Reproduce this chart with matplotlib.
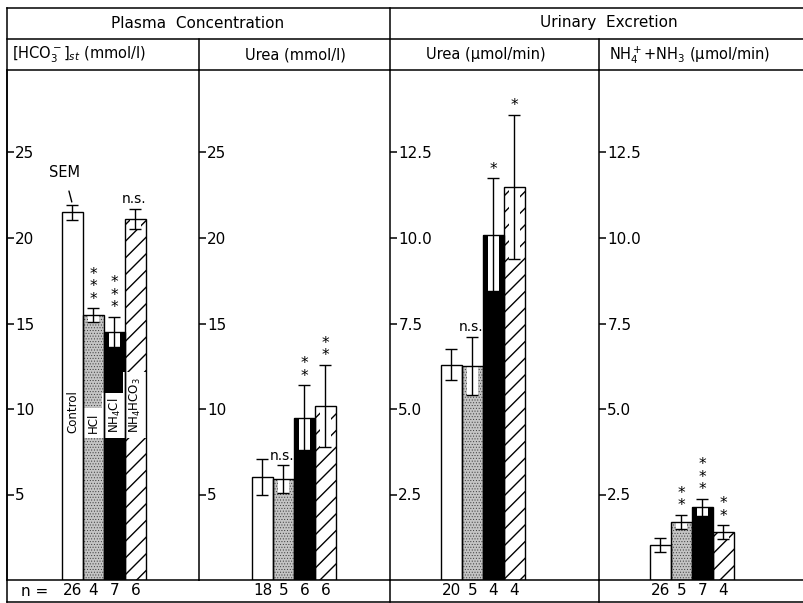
import matplotlib
matplotlib.use('Agg')
import matplotlib.pyplot as plt
from matplotlib.lines import Line2D

plt.rcParams['font.family'] = 'DejaVu Sans'
plt.rcParams['hatch.linewidth'] = 1.0

groups = ['Control', 'HCl', 'NH$_4$Cl', 'NH$_4$HCO$_3$']

# plasma HCO3 st (mmol/l)
hco3_mean = [21.5, 15.5, 14.5, 21.1]
hco3_sem = [0.45, 0.4, 0.9, 0.6]
hco3_n = [26, 4, 7, 6]
hco3_sig = ['', '***', '***', 'n.s.']

# plasma urea (mmol/l)
purea_mean = [6.0, 5.9, 9.5, 10.2]
purea_sem = [1.05, 0.8, 1.9, 2.4]
purea_n = [18, 5, 6, 6]
purea_sig = ['', 'n.s.', '**', '**']

# urinary urea (umol/min)
uurea_mean = [6.3, 6.25, 10.1, 11.5]
uurea_sem = [0.45, 0.85, 1.65, 2.1]
uurea_n = [20, 5, 4, 4]
uurea_sig = ['', 'n.s.', '*', '*']

# urinary NH4+ + NH3 (umol/min)
nh4_mean = [1.02, 1.70, 2.13, 1.40]
nh4_sem = [0.2, 0.21, 0.25, 0.2]
nh4_n = [26, 5, 7, 4]
nh4_sig = ['', '**', '***', '**']

ticks_a = [5, 10, 15, 20, 25]
ticks_b = [2.5, 5.0, 7.5, 10.0, 12.5]
ticklab_b = ['2.5', '5.0', '7.5', '10.0', '12.5']

W, H = 804, 603
def fx(x):
    return x / W
def fy(y):
    return 1 - y / H

fig = plt.figure(figsize=(W / 100, H / 100), dpi=100)

edges = [7, 199, 390, 599, 828]
bar_start = [62, 252, 441, 650]
bar_px = 21.0
top, bot = 70, 580
lw = 1.1

panels = [
    (hco3_mean, hco3_sem, hco3_n, hco3_sig, 17.1, ticks_a, [str(t) for t in ticks_a]),
    (purea_mean, purea_sem, purea_n, purea_sig, 17.1, ticks_a, [str(t) for t in ticks_a]),
    (uurea_mean, uurea_sem, uurea_n, uurea_sig, 34.2, ticks_b, ticklab_b),
    (nh4_mean, nh4_sem, nh4_n, nh4_sig, 34.2, ticks_b, ticklab_b),
]

faces = ['white', '#c4c4c4', 'black', 'white']
hatches = [None, '......', None, '//']
hcols = ['black', '#3a3a3a', 'black', 'black']

for k, (mean, sem, nn, sig, pxu, yt, ytl) in enumerate(panels):
    l, r = edges[k], edges[k + 1]
    ax = fig.add_axes([fx(l), fy(bot), (r - l) / W, (bot - top) / H])
    x0 = -0.5 - (bar_start[k] - l) / bar_px
    ax.set_xlim(x0, x0 + (r - l) / bar_px)
    ax.set_ylim(0, (bot - top) / pxu)
    xs = list(range(len(mean)))

    for i in xs:
        b = ax.bar(i, mean[i], width=1.0, color=faces[i], hatch=hatches[i],
                   edgecolor=hcols[i], linewidth=0, zorder=1)
        if hatches[i] == '......':
            for p in b:
                if hasattr(p, 'set_hatch_linewidth'):
                    p.set_hatch_linewidth(0.4)
        if i > 0:
            # white window around the lower half of the error bar
            ax.bar(i, sem[i], bottom=mean[i] - sem[i], width=0.55,
                   color='white', linewidth=0, zorder=2)
    ax.bar(xs, mean, width=1.0, fill=False, edgecolor='black', linewidth=1.0, zorder=3)
    ax.errorbar(xs, mean, yerr=sem, fmt='none', ecolor='black', elinewidth=1.0,
                capsize=4, capthick=1.0, zorder=4)

    for i, s in enumerate(sig):
        if not s:
            continue
        if s.startswith('*'):
            txt = '\n'.join(s)
            ax.annotate(txt, xy=(i, mean[i] + sem[i]), xytext=(0, 1),
                        textcoords='offset points', ha='center', va='bottom',
                        fontsize=11, linespacing=0.8, zorder=5)
        else:
            ax.annotate(s, xy=(i, mean[i] + sem[i]), xytext=(-1, 2),
                        textcoords='offset points', ha='center', va='bottom',
                        fontsize=10, zorder=5)

    ax.set_yticks(yt)
    ax.set_yticklabels(ytl, fontsize=11)
    ax.tick_params(axis='y', direction='in', length=5, width=lw, pad=-6)
    for lab in ax.get_yticklabels():
        lab.set_horizontalalignment('left')
    ax.set_xticks(xs)
    ax.set_xticklabels([str(v) for v in nn], fontsize=11)
    ax.tick_params(axis='x', length=0, pad=2)
    for side in ['left', 'top', 'bottom', 'right']:
        ax.spines[side].set_linewidth(lw)
    ax.spines['right'].set_visible(False)

    if k == 0:
        for i, g in enumerate(groups):
            ax.text(i, 8.6, g, rotation=90, ha='center', va='bottom', fontsize=8.5,
                    zorder=2.5, bbox=dict(boxstyle='square,pad=0.4', fc='white', ec='none'))
        ax.annotate('SEM', xy=(0, mean[0] + sem[0]), xytext=(-6, 23),
                    textcoords='offset points', ha='center', va='center', fontsize=10.5,
                    arrowprops=dict(arrowstyle='-', lw=1.0, shrinkA=6, shrinkB=2))

# frame lines of the table
frame = [
    ((7, 8), (828, 8)), ((7, 39), (828, 39)), ((7, 602), (828, 602)),
    ((7, 8), (7, 602)),
    ((390, 8), (390, 70)), ((390, 580), (390, 602)),
    ((199, 39), (199, 70)),
    ((599, 39), (599, 70)), ((599, 580), (599, 602)),
]
for (xa, ya), (xb, yb) in frame:
    fig.add_artist(Line2D([fx(xa), fx(xb)], [fy(ya), fy(yb)], color='black', lw=lw))

fig.text(fx(198), fy(23), 'Plasma  Concentration', ha='center', va='center', fontsize=11)
fig.text(fx(609), fy(23), 'Urinary  Excretion', ha='center', va='center', fontsize=11)
fig.text(fx(12), fy(55), r'[HCO$_3^-$]$_{st}$ (mmol/l)', ha='left', va='center', fontsize=10.5)
fig.text(fx(295), fy(55), 'Urea (mmol/l)', ha='center', va='center', fontsize=10.5)
fig.text(fx(486), fy(55), 'Urea (µmol/min)', ha='center', va='center', fontsize=10.5)
fig.text(fx(609), fy(55), r'NH$_4^+$+NH$_3$ (µmol/min)', ha='left', va='center', fontsize=10.5)
fig.text(fx(35), fy(591), 'n =', ha='center', va='center', fontsize=11)

fig.savefig('out.png', dpi=100)
